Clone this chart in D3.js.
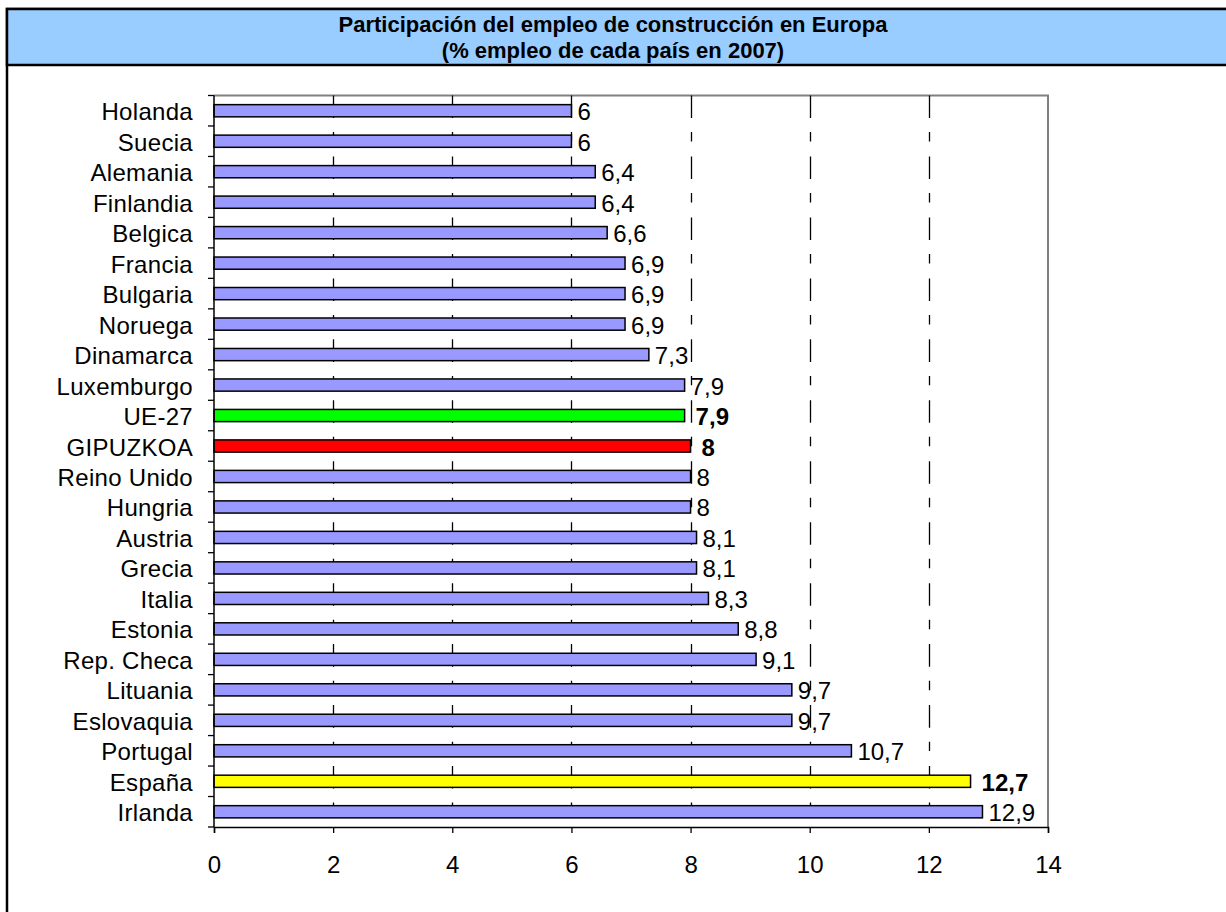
<!DOCTYPE html>
<html><head><meta charset="utf-8">
<script src="https://cdn.jsdelivr.net/npm/d3@7"></script>
<style>body{margin:0;background:#fff}svg{display:block}text{font-family:Arial,"Liberation Sans",sans-serif}</style>
</head><body>
<svg id="c" width="1226" height="912"></svg>
<script>
const titleLines = ["Participación del empleo de construcción en Europa", "(% empleo de cada país en 2007)"];
const countries = ["Holanda","Suecia","Alemania","Finlandia","Belgica","Francia","Bulgaria","Noruega","Dinamarca","Luxemburgo","UE-27","GIPUZKOA","Reino Unido","Hungria","Austria","Grecia","Italia","Estonia","Rep. Checa","Lituania","Eslovaquia","Portugal","España","Irlanda"];
const values = [6,6,6.4,6.4,6.6,6.9,6.9,6.9,7.3,7.9,7.9,8,8,8,8.1,8.1,8.3,8.8,9.1,9.7,9.7,10.7,12.7,12.9];
const highlight = {"UE-27":"#00FF00","GIPUZKOA":"#FF0000","España":"#FFFF00"};
const xTicks = [0,2,4,6,8,10,12,14];

const svg = d3.select("#c");
// frame and header
svg.append("rect").attr("x",7).attr("y",9).attr("width",1230).attr("height",920)
  .attr("fill","#fff").attr("stroke","#000").attr("stroke-width",2.5);
svg.append("rect").attr("x",7).attr("y",9).attr("width",1230).attr("height",56)
  .attr("fill","#99CCFF").attr("stroke","#000").attr("stroke-width",2.5);
svg.selectAll("text.title").data(titleLines).join("text").attr("class","title")
  .attr("x",613).attr("y",(d,i)=>24+i*26).attr("text-anchor","middle").attr("dominant-baseline","central")
  .attr("font-weight","bold").attr("font-size",22).text(d=>d);

const L=214, R=1048, T=95.5, B=827;
const x = d3.scaleLinear().domain([0,14]).range([L,R]);
const y = d3.scaleBand().domain(countries).range([T,B]).paddingInner(0.6).paddingOuter(0.3);
const step = y.step();

// plot border (gray)
svg.append("path").attr("d",`M${L},${T}H${R}V${B}`).attr("fill","none").attr("stroke","#808080").attr("stroke-width",2);

// gridlines
svg.append("g").selectAll("line").data(xTicks.filter(t=>t>0&&t<14)).join("line")
  .attr("x1",d=>Math.round(x(d))+0.5).attr("x2",d=>Math.round(x(d))+0.5).attr("y1",T).attr("y2",B)
  .attr("stroke","#000").attr("stroke-width",1.3)
  .attr("stroke-dasharray",`${step*0.74},${step*0.46},${step*0.31},${step*0.49}`);

// bars
svg.append("g").selectAll("rect").data(countries).join("rect")
  .attr("x",x(0)).attr("y",d=>y(d)).attr("width",(d,i)=>x(values[i])-x(0)).attr("height",y.bandwidth())
  .attr("fill",d=>highlight[d]||"#9999FF").attr("stroke","#000").attr("stroke-width",1.5);

// value labels
svg.append("g").selectAll("text").data(countries).join("text")
  .attr("x",(d,i)=>x(values[i])+(highlight[d]?11:6)).attr("y",d=>y(d)+y.bandwidth()/2+1)
  .attr("dominant-baseline","central").attr("font-size",24)
  .attr("font-weight",d=>highlight[d]?"bold":"normal")
  .text((d,i)=>String(values[i]).replace(".",","));

// axes
const xAxis = d3.axisBottom(x).tickValues(xTicks).tickSize(6).tickPadding(23).tickFormat(d=>d);
const gx = svg.append("g").attr("transform",`translate(0,${B})`).call(xAxis);
gx.select(".domain").attr("stroke","#000").attr("stroke-width",1.5);
gx.selectAll(".tick line").attr("stroke","#000").attr("stroke-width",1.3);
gx.selectAll("text").attr("font-size",24).attr("font-family","Arial,'Liberation Sans',sans-serif").attr("fill","#000");

const sepY = d3.range(countries.length+1).map(i=>T+i*step);
const gy = svg.append("g");
gy.append("line").attr("x1",L).attr("x2",L).attr("y1",T).attr("y2",B).attr("stroke","#000").attr("stroke-width",1.5);
gy.selectAll("line.t").data(sepY).join("line").attr("class","t")
  .attr("x1",L-6).attr("x2",L).attr("y1",d=>d).attr("y2",d=>d).attr("stroke","#000").attr("stroke-width",1.3);
gy.selectAll("text").data(countries).join("text")
  .attr("x",L-21).attr("y",d=>y(d)+y.bandwidth()/2+1).attr("text-anchor","end").attr("dominant-baseline","central")
  .attr("font-size",24).attr("letter-spacing",0.3).text(d=>d);
</script>
</body></html>
